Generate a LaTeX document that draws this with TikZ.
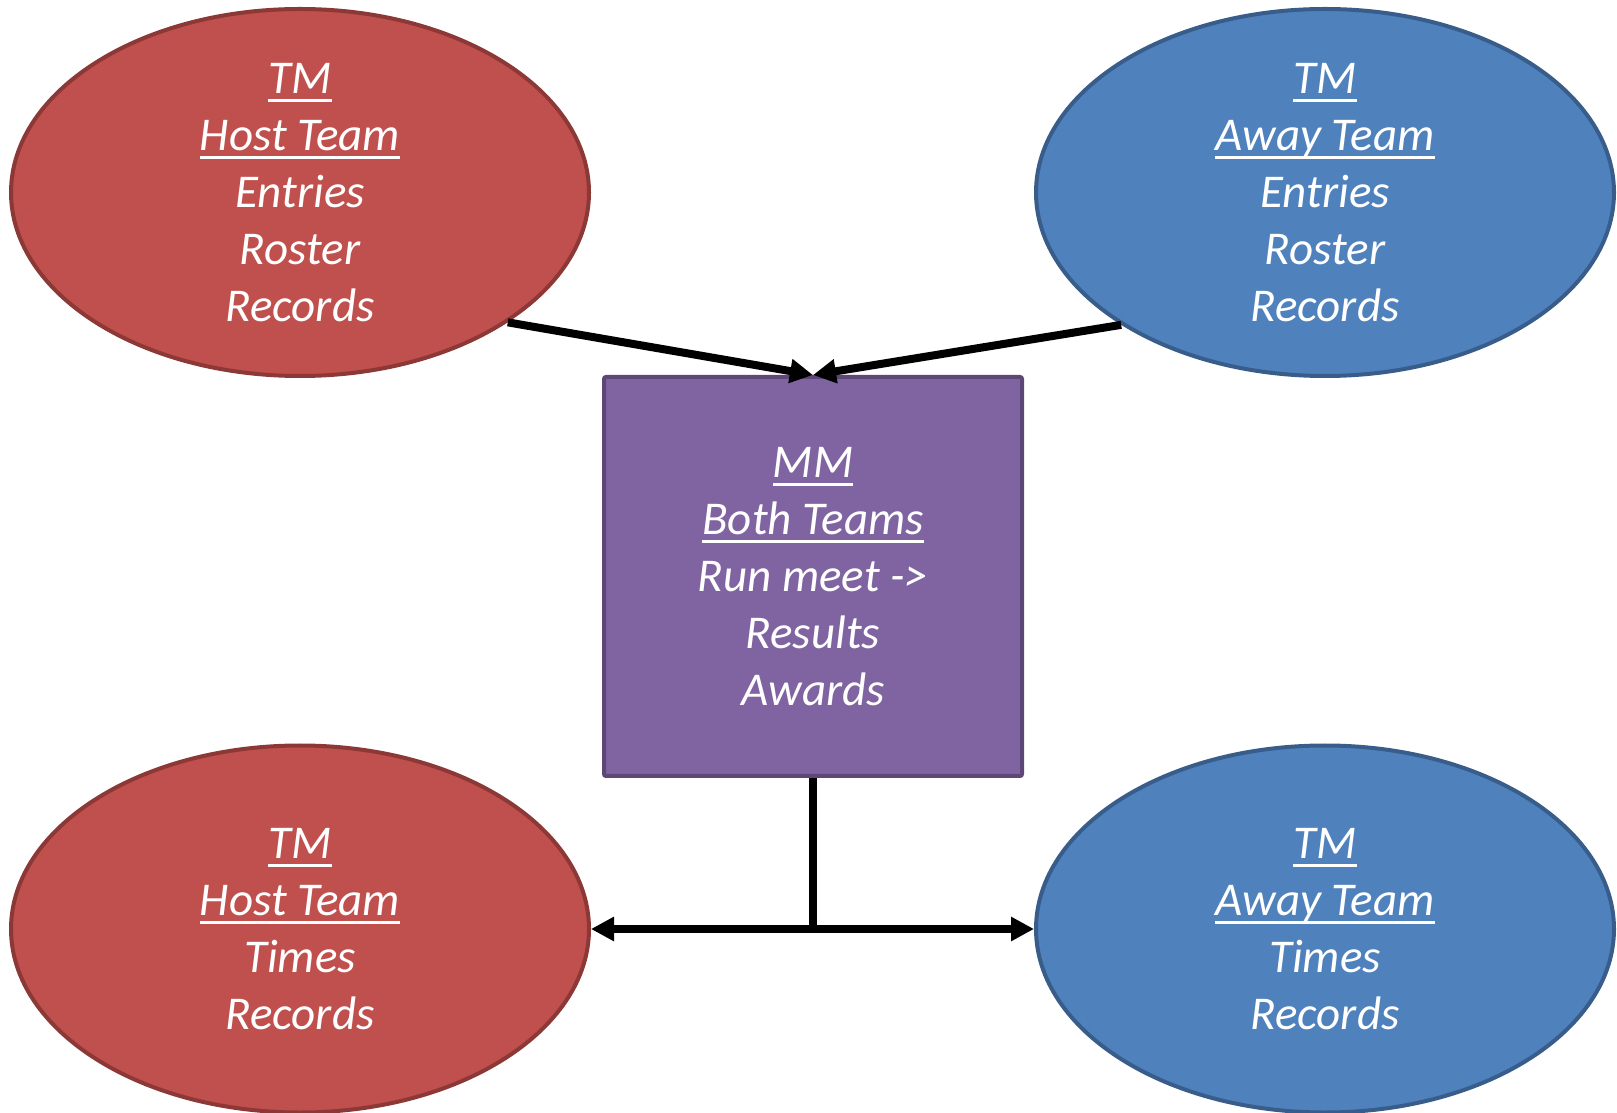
\documentclass[tikz,border=0pt]{standalone}
\usepackage{fontspec}
\setmainfont{Carlito}
\usepackage{tikz}
\usetikzlibrary{arrows.meta,shapes.geometric}
\usetikzlibrary{positioning}
\definecolor{hostred}{HTML}{C0504D}
\definecolor{hostline}{HTML}{8C3836}
\definecolor{awayblue}{HTML}{4F81BD}
\definecolor{awayline}{HTML}{385D8A}
\definecolor{meetpurple}{HTML}{8064A2}
\definecolor{meetline}{HTML}{5C4776}
\newcommand{\undertext}[1]{\setbox0=\hbox{#1}\rlap{\rule[-8.5pt]{\wd0}{3.3pt}}\box0}
\tikzset{
    team/.style={
           ellipse,
           minimum width=578pt,
           minimum height=367pt,
           inner sep=0pt,
           line width=4pt,
           text=white,
           align=center,
           font=\fontsize{47}{57}\selectfont\itshape,
           },
    host/.style={team, fill=hostred, draw=hostline},
    away/.style={team, fill=awayblue, draw=awayline},
    meet/.style={
           rectangle,
           rounded corners=2pt,
           fill=meetpurple, draw=meetline,
           line width=4pt,
           minimum width=418pt,
           minimum height=399pt,
           inner sep=0pt,
           text=white,
           align=center,
           font=\fontsize{47}{57}\selectfont\itshape,
           },
    link/.style={->, line width=8pt},
}

\begin{document}
\begin{tikzpicture}[x=1pt,y=1pt,>={Triangle[length=23pt,width=23pt]}]
 \useasboundingbox (0,0) rectangle (1617,1112);

 % TM host team, before the meet
 \node[host] (HOSTIN) at (300,919.5)
 {\undertext{TM}\\ \undertext{Host Team}\\ Entries\\ Roster\\ Records};

 % TM away team, before the meet
 \node[away,
  right of=HOSTIN, 	% same row as HOSTIN
  node distance=1025pt] (AWAYIN)
 {\undertext{TM}\\ \undertext{Away Team}\\ Entries\\ Roster\\ Records};

 % MM runs the meet
 \node[meet,
  right of=HOSTIN,
  node distance=513pt,
  yshift=-384pt] (MEET)
 {\undertext{MM}\\ \undertext{Both Teams}\\ Run meet ->\\ Results\\ Awards};

 % TM teams, after the meet
 \node[host,
  below of=HOSTIN,
  node distance=736.5pt] (HOSTOUT)
 {\undertext{TM}\\ \undertext{Host Team}\\ Times\\ Records};
 \node[away,
  right of=HOSTOUT,
  node distance=1025pt] (AWAYOUT)
 {\undertext{TM}\\ \undertext{Away Team}\\ Times\\ Records};

 \coordinate (SPLIT) at (MEET.south |- HOSTOUT.east);

 % entries go in, results come out
 \path
 (HOSTIN.-32.5)	edge[link]	(MEET.north)
 (AWAYIN.-147.3)	edge[link]	(MEET.north)
 (SPLIT)	edge[link]	(HOSTOUT.east)
 (SPLIT)	edge[link]	(AWAYOUT.west)
 ;
 \draw[line width=8pt] (MEET.south) -- (SPLIT);
\end{tikzpicture}
\end{document}
